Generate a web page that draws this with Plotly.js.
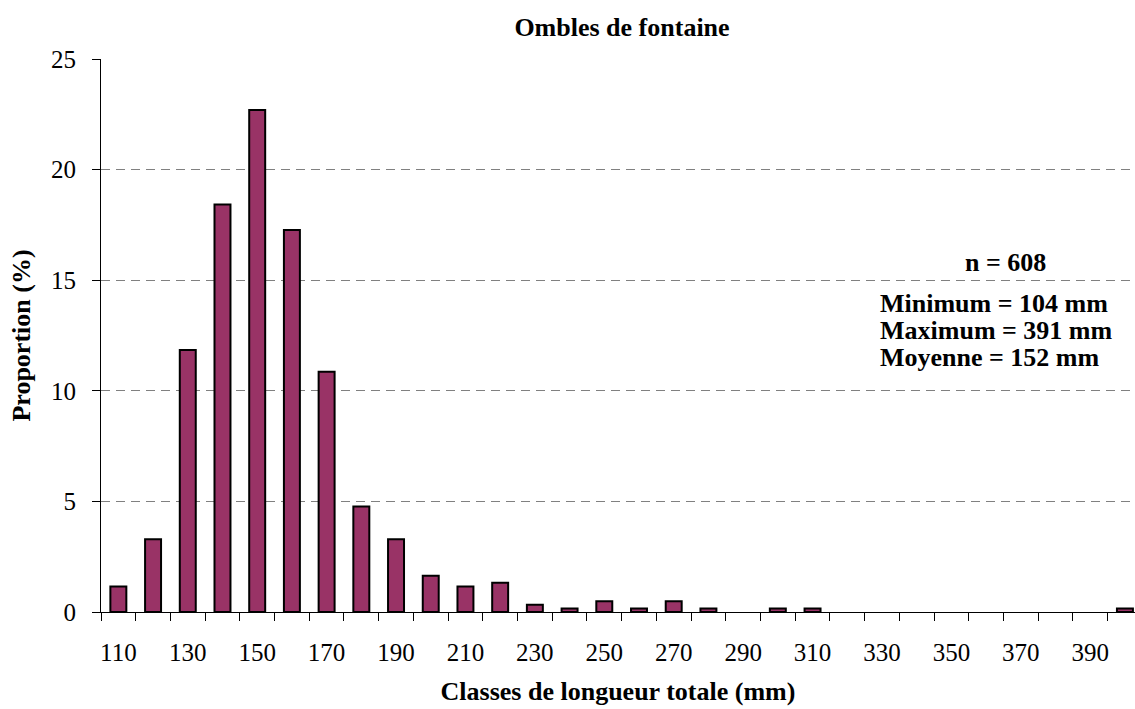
<!DOCTYPE html>
<html>
<head>
<meta charset="utf-8">
<script src="https://cdn.plot.ly/plotly-3.0.1.min.js"></script>
<style>html,body{margin:0;padding:0;background:#fff;}#chart{width:1135px;height:709px;}</style>
</head>
<body>
<div id="chart"></div>
<script>
const categories = ['110','120','130','140','150','160','170','180','190','200','210','220','230','240','250','260','270','280','290','300','310','320','330','340','350','360','370','380','390','400'];
const proportions = [1.15, 3.29, 11.84, 18.42, 22.70, 17.27, 10.86, 4.77, 3.29, 1.64, 1.15, 1.32, 0.33, 0.16, 0.49, 0.16, 0.49, 0.16, 0, 0.16, 0.16, 0, 0, 0, 0, 0, 0, 0, 0, 0.16];
const tickLabels = categories.map((c, i) => (i % 2 === 0 ? c : ''));
const yTicks = [0, 5, 10, 15, 20, 25];
const statsHeader = 'n = 608';
const statsLines = ['Minimum = 104 mm', 'Maximum = 391 mm', 'Moyenne = 152 mm'];

const W = 1135, H = 709, L = 101, R = 0, T = 59, B = 97;
const pw = W - L - R, ph = H - T - B;
const px = v => (v - L) / pw;
const py = v => (H - B - v) / ph;

const serif = 'Liberation Serif, Times New Roman, serif';

const trace = {
  type: 'bar',
  x: categories,
  y: proportions,
  width: 0.46,
  marker: {color: '#993366', line: {color: '#000000', width: proportions.map(v => (v > 0 ? 2 : 0))}},
  hoverinfo: 'x+y'
};

const annotations = [
  {text: '<b>' + statsHeader + '</b>', xref: 'paper', yref: 'paper', x: px(1005), y: py(262), xanchor: 'center', yanchor: 'middle', showarrow: false, font: {family: serif, size: 26, color: '#000'}},
].concat(statsLines.map((t, i) => ({
  text: '<b>' + t + '</b>', xref: 'paper', yref: 'paper', x: px(878), y: py(303 + i * 27), xanchor: 'left', yanchor: 'middle', showarrow: false, font: {family: serif, size: 26, color: '#000'}
})));

const layout = {
  width: W, height: H,
  margin: {l: L, r: R, t: T, b: B, pad: 0},
  paper_bgcolor: '#ffffff', plot_bgcolor: '#ffffff',
  showlegend: false,
  font: {family: serif, color: '#000'},
  title: {text: '<b>Ombles de fontaine</b>', font: {family: serif, size: 26, color: '#000'}, xref: 'paper', x: px(622), xanchor: 'center', yref: 'container', y: 1 - 27 / H, yanchor: 'middle'},
  xaxis: {
    type: 'category',
    range: [-0.5, 29.29],
    tickmode: 'array', tickvals: categories, ticktext: tickLabels,
    tickson: 'boundaries',
    tickangle: 0,
    ticks: 'outside', ticklen: 8, tickwidth: 1, tickcolor: '#000',
    tickfont: {family: serif, size: 25, color: '#000'},
    ticklabelstandoff: 18,
    showline: true, linecolor: '#000', linewidth: 1,
    showgrid: false, zeroline: false,
    title: {text: '<b>Classes de longueur totale (mm)</b>', font: {family: serif, size: 26, color: '#000'}, standoff: 16}
  },
  yaxis: {
    range: [0, 25],
    tickmode: 'array', tickvals: yTicks,
    ticks: 'outside', ticklen: 8, tickwidth: 1, tickcolor: '#000',
    tickfont: {family: serif, size: 25, color: '#000'},
    ticklabelstandoff: 11,
    showline: true, linecolor: '#000', linewidth: 1,
    showgrid: true, gridcolor: '#808080', gridwidth: 1, griddash: '9px,6px',
    zeroline: false,
    title: {text: '<b>Proportion (%)</b>', font: {family: serif, size: 26, color: '#000'}, standoff: 12}
  },
  annotations: annotations,
  bargap: 0.54
};

Plotly.newPlot('chart', [trace], layout, {displayModeBar: false, staticPlot: true});
</script>
</body>
</html>
